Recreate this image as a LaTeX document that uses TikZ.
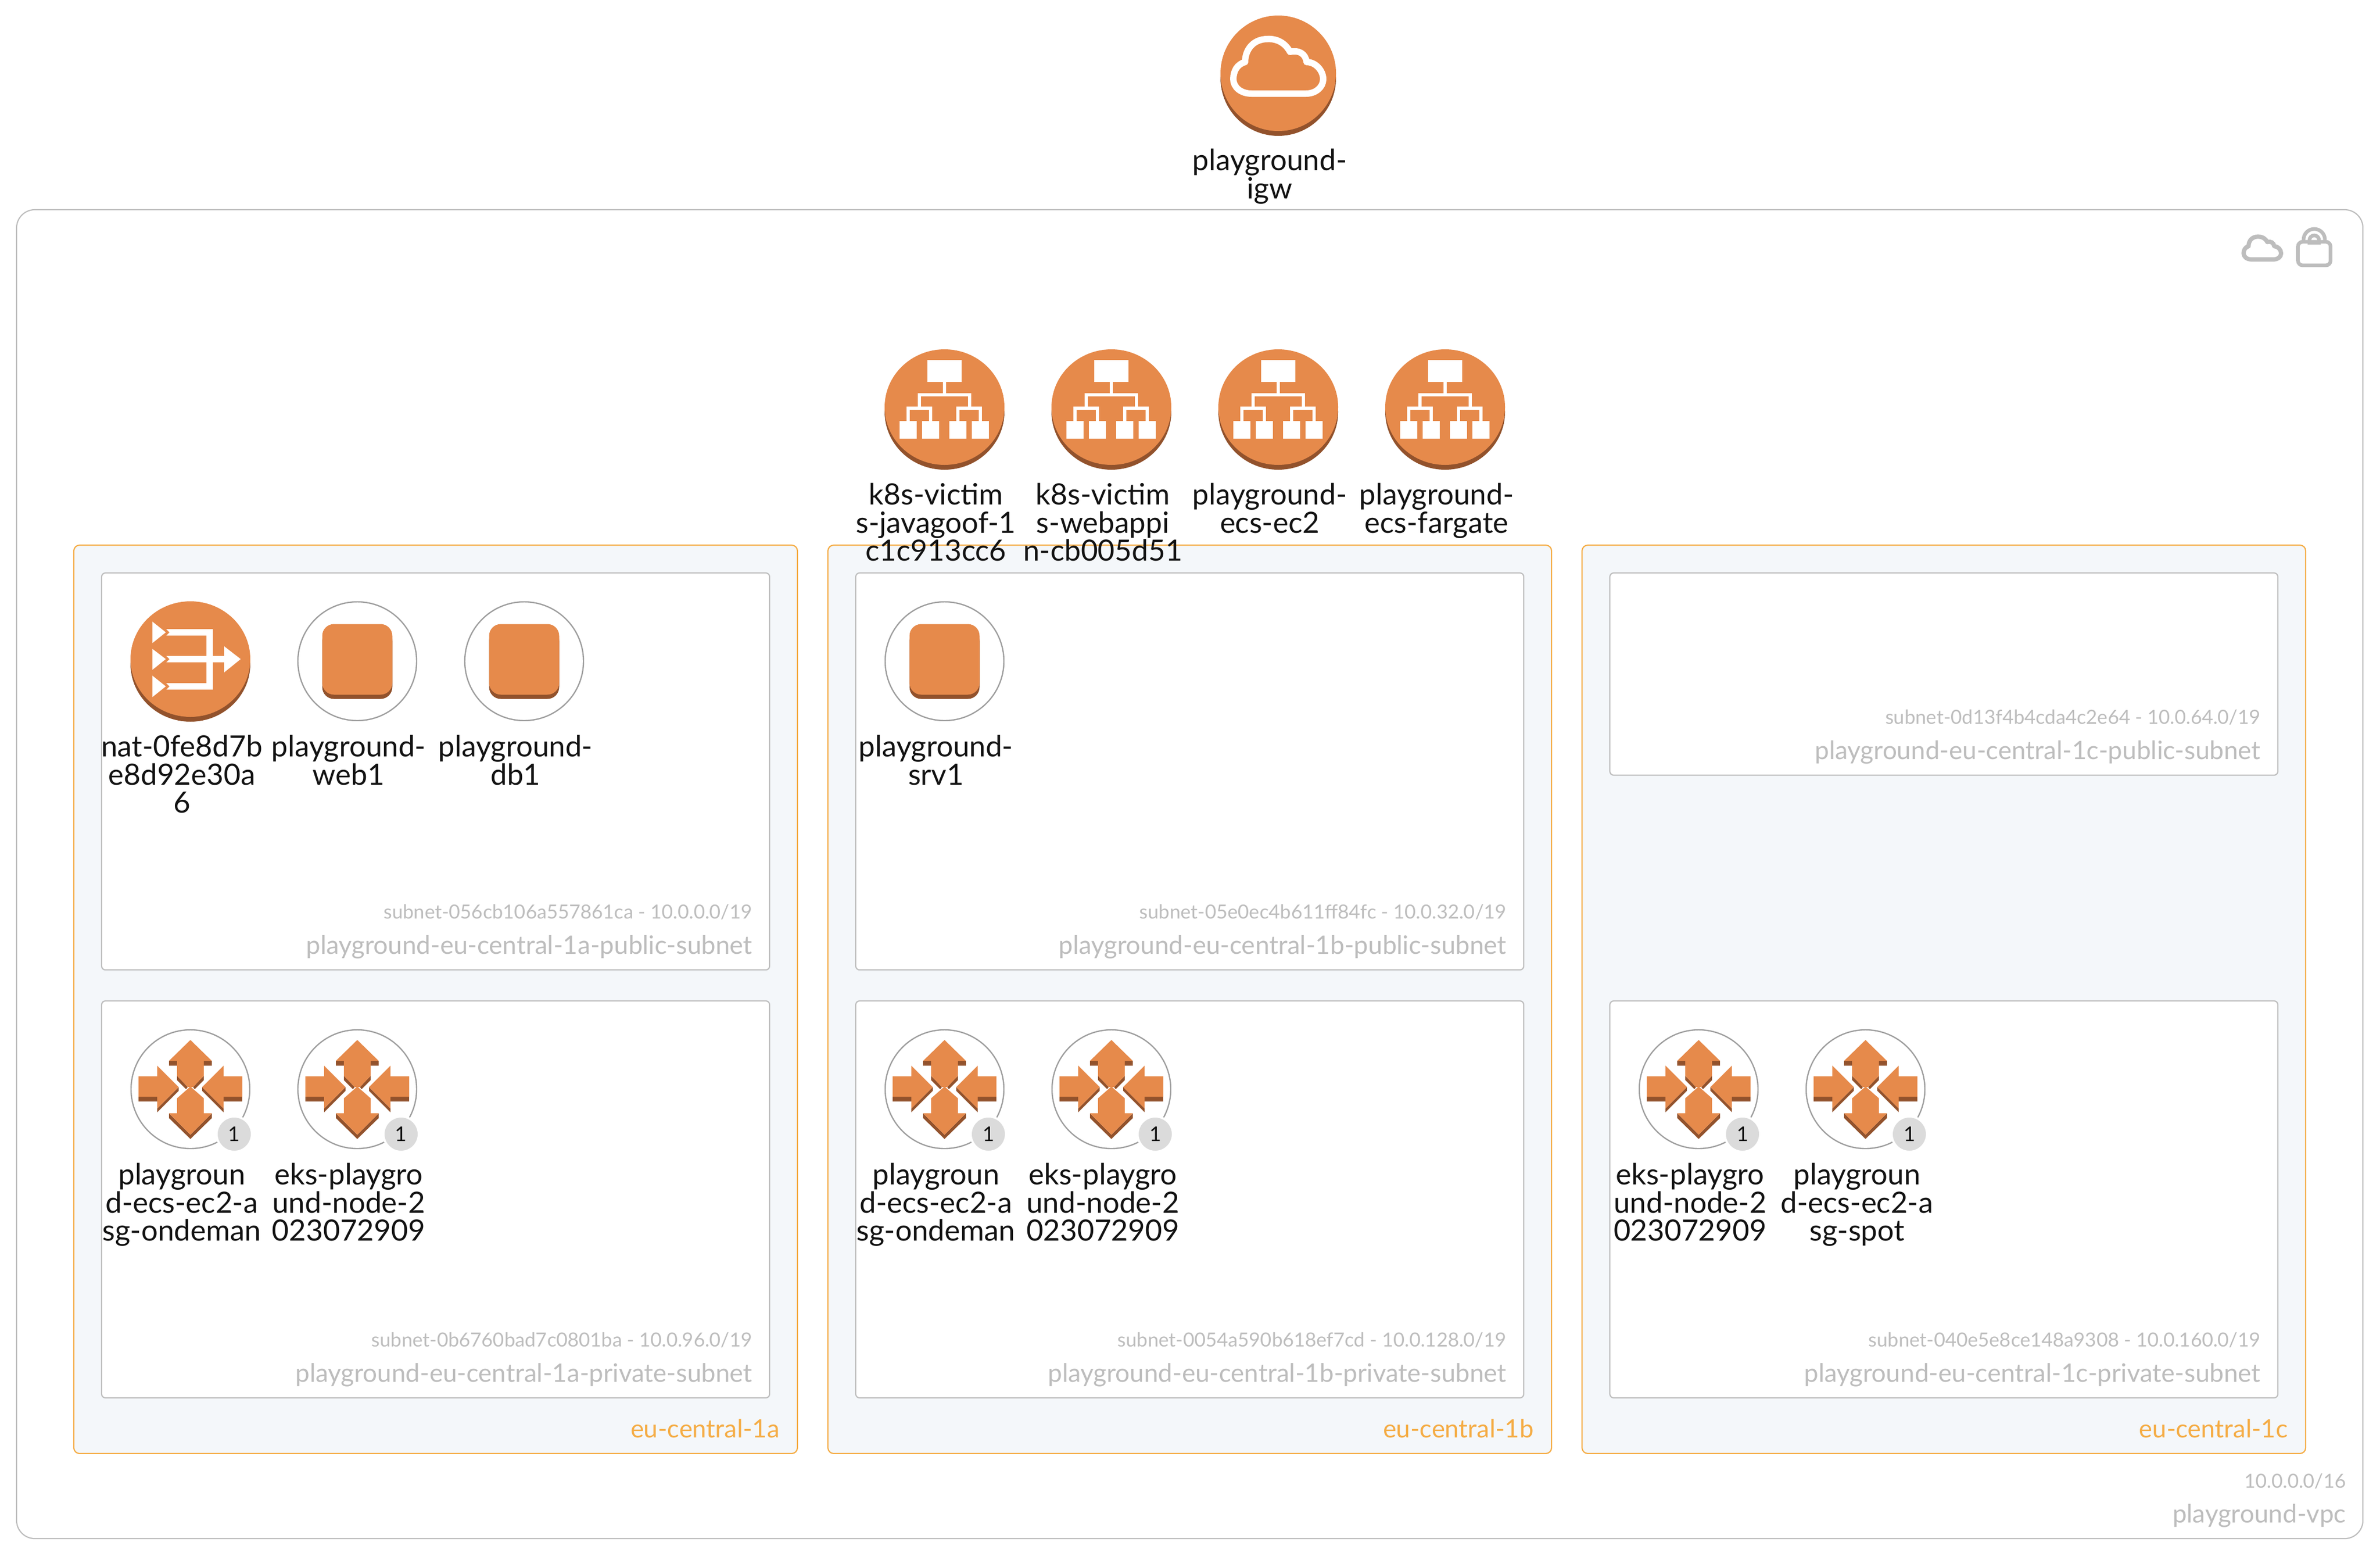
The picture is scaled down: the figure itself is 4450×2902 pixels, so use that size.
\documentclass[tikz,border=0pt]{standalone}
\usepackage{fontspec}
\setmainfont{Lato}
\normallineskiplimit=-5pt
\lineskiplimit=-5pt
\definecolor{awsorange}{HTML}{E68A4B}
\definecolor{awsdark}{HTML}{92522C}
\definecolor{boxgray}{HTML}{BDBDBD}
\definecolor{ringgray}{HTML}{9E9E9E}
\definecolor{azorange}{HTML}{F5AC44}
\definecolor{azfill}{HTML}{F4F7FA}
\tikzset{
    every picture/.style={line width=0.75pt},
    vpcbox/.style={draw=boxgray,fill=white,line width=0.55pt,rounded corners=8.5pt},
    azbox/.style={draw=azorange,fill=azfill,line width=0.55pt,rounded corners=2.7pt},
    subnetbox/.style={draw=boxgray,fill=white,line width=0.55pt,rounded corners=1.8pt},
    iconlabel/.style={anchor=north,align=center,inner sep=0pt,text=black!93,font=\fontsize{13.7}{13.1}\selectfont},
    subnetid/.style={anchor=base east,inner sep=0pt,text=boxgray,font=\fontsize{9.1}{11}\selectfont},
    subnetname/.style={anchor=base east,inner sep=0pt,text=boxgray,font=\fontsize{11.9}{13}\selectfont},
    azname/.style={anchor=base east,inner sep=0pt,text=azorange,font=\fontsize{11.8}{13}\selectfont},
    countbadge/.style={circle,fill=black!14,draw=white,line width=1pt,minimum size=16.5pt,inner sep=0pt,text=black!93,font=\fontsize{9.5}{11}\selectfont},
    % flat disc with the darker rim below it
    pics/disc/.style={code={
        \fill[awsdark] (0,9) circle (108);
        \fill[awsorange] (0,0) circle (108);
    }},
    pics/widedisc/.style={code={
        \fill[awsdark] (0,9) ellipse (112 and 108);
        \fill[awsorange] (0,0) ellipse (112 and 108);
    }},
    pics/ring/.style={code={
        \draw[ringgray,fill=white,line width=0.6pt] (0,0) circle (111);
    }},
    pics/cloudline/.style={code={
        \draw[line join=round] (-50,38) -- (52,38) .. controls (70,38) and (84,26) .. (84,11)
            .. controls (84,-5) and (70,-21) .. (53,-21) .. controls (51,-37) and (38,-44) .. (22,-40)
            .. controls (13,-57) and (-3,-65) .. (-20,-64) .. controls (-47,-64) and (-62,-44) .. (-62,-21)
            .. controls (-77,-17) and (-84,-4) .. (-84,11) .. controls (-84,26) and (-70,38) .. (-50,38) -- cycle;
    }},
    pics/igwicon/.style={code={
        \pic {disc};
        \pic[white,line width=3pt] {cloudline};
    }},
    pics/lockicon/.style={code={
        \draw[boxgray,line width=1.7pt,rounded corners=2.2pt] (-30.5,-22) rectangle (30.5,22);
        \draw[boxgray,line width=1.7pt] (-20,-22) -- (-20,-26) arc (180:360:20) -- (20,-22);
        \draw[boxgray,line width=1.7pt] (-9,-20) -- (-9,-25) arc (180:360:9) -- (9,-20) -- cycle;
    }},
    pics/albicon/.style={code={
        \pic {widedisc};
        \fill[white] (-32,-88) rectangle (32,-47);
        \fill[white] (-84,26) rectangle (-52,59);
        \fill[white] (-42,26) rectangle (-10,59);
        \fill[white] (9,26) rectangle (41,59);
        \fill[white] (51,26) rectangle (83,59);
        \draw[white,line width=1.5pt] (0,-47) -- (0,-23);
        \draw[white,line width=1.5pt] (-47,2) -- (-47,-23) -- (47,-23) -- (47,2);
        \draw[white,line width=1.5pt] (-68,26) -- (-68,2) -- (-26,2) -- (-26,26);
        \draw[white,line width=1.5pt] (25,26) -- (25,2) -- (67,2) -- (67,26);
    }},
    pics/naticon/.style={code={
        \pic {widedisc};
        \fill[white] (-71,-70) -- (-46,-50) -- (-71,-30) -- cycle;
        \fill[white] (-71,-19) -- (-46,0) -- (-71,20) -- cycle;
        \fill[white] (-71,31) -- (-46,51) -- (-71,71) -- cycle;
        \fill[white] (-45,-56) -- (42,-56) -- (42,57) -- (-45,57) -- (-39,51) -- (-45,45) -- (30,45)
            -- (30,6) -- (-45,6) -- (-39,0) -- (-45,-6) -- (30,-6) -- (30,-44) -- (-45,-44) -- (-39,-50) -- cycle;
        \fill[white] (42,-6) -- (63,-6) -- (63,-24) -- (94,0) -- (63,25) -- (63,6) -- (42,6) -- cycle;
    }},
    pics/instanceicon/.style={code={
        \pic {ring};
        \fill[awsdark,rounded corners=5.5pt] (-65.5,-60) rectangle (65.5,70.5);
        \fill[awsorange,rounded corners=5.5pt] (-65.5,-69.5) rectangle (65.5,62.5);
    }},
    pics/asgicon/.style={code={
        \pic {ring};
        % shadows
        \fill[awsdark] (-40,-53) -- (-40,-44) -- (-25,-44) -- (-25,-53) -- cycle;
        \fill[awsdark] (40,-53) -- (40,-44) -- (25,-44) -- (25,-53) -- cycle;
        \fill[awsdark] (-25,-25) -- (-25,-17) -- (-8,0) -- (-5,-4) -- cycle;
        \fill[awsdark] (25,-25) -- (25,-17) -- (8,0) -- (5,-4) -- cycle;
        \fill[awsdark] (-40,45) -- (-40,54) -- (0,93) -- (40,54) -- (40,45) -- (0,85) -- cycle;
        \fill[awsdark] (-97,14) -- (-62,14) -- (-62,23) -- (-97,23) -- cycle;
        \fill[awsdark] (-22,-4) -- (-62,36) -- (-62,43) -- (-22,3) -- cycle;
        \fill[awsdark] (97,14) -- (62,14) -- (62,23) -- (97,23) -- cycle;
        \fill[awsdark] (22,-4) -- (62,36) -- (62,43) -- (22,3) -- cycle;
        % arrows
        \fill[awsorange] (0,-92) -- (40,-53) -- (25,-53) -- (25,-25) -- (5,-4) -- (-5,-4) -- (-25,-25) -- (-25,-53) -- (-40,-53) -- cycle;
        \fill[awsorange] (0,-5) -- (25,17) -- (25,45) -- (40,45) -- (0,85) -- (-40,45) -- (-25,45) -- (-25,17) -- cycle;
        \fill[awsorange] (-97,-24) -- (-62,-24) -- (-62,-44) -- (-22,-4) -- (-62,36) -- (-62,14) -- (-97,14) -- cycle;
        \fill[awsorange] (97,-24) -- (62,-24) -- (62,-44) -- (22,-4) -- (62,36) -- (62,14) -- (97,14) -- cycle;
    }},
}

\begin{document}
\begin{tikzpicture}[x=0.25pt,y=-0.25pt]
    \useasboundingbox (0,0) rectangle (4450,2902);
    % Internet gateway
    \pic (igw) at (2390,137) {igwicon};
    \node[iconlabel] (igwlabel) at (2374,277) {playground-\\igw};
    % VPC
    \draw[vpcbox] (31,392) rectangle (4418,2876);
    \pic[boxgray,line width=2pt,scale=0.417] (vpccloud) at (4230,469) {cloudline};
    \pic (vpclock) at (4327,474) {lockicon};
    % Zones
    \draw[azbox] (138,1019) rectangle (1491,2717);
    \draw[azbox] (1548,1019) rectangle (2901,2717);
    \draw[azbox] (2958,1019) rectangle (4311,2717);
    % Subnets
    \draw[subnetbox] (190,1071) rectangle (1439,1813);
    \draw[subnetbox] (190,1871) rectangle (1439,2613);
    \draw[subnetbox] (1600,1071) rectangle (2849,1813);
    \draw[subnetbox] (1600,1871) rectangle (2849,2613);
    \draw[subnetbox] (3010,1071) rectangle (4259,1449);
    \draw[subnetbox] (3010,1871) rectangle (4259,2613);
    % Load balancers
    \pic (albjava) at (1766,761) {albicon};
    \pic (albweb) at (2078,761) {albicon};
    \pic (albec2) at (2390,761) {albicon};
    \pic (albfargate) at (2702,761) {albicon};
    \node[iconlabel] (albjavalabel) at (1750,902) {k8s-victim\\s-javagoof-1\\c1c913cc6};
    \node[iconlabel] (albweblabel) at (2062,902) {k8s-victim\\s-webappi\\n-cb005d51};
    \node[iconlabel] (albec2label) at (2374,902) {playground-\\ecs-ec2};
    \node[iconlabel] (albfargatelabel) at (2686,902) {playground-\\ecs-fargate};
    % Public subnet icons
    \pic (natgw) at (356,1232) {naticon};
    \pic (web1) at (668,1236) {instanceicon};
    \pic (db1) at (980,1236) {instanceicon};
    \pic (srv1) at (1766,1236) {instanceicon};
    \node[iconlabel] (natlabel) at (340,1373) {nat-0fe8d7b\\e8d92e30a\\6};
    \node[iconlabel] (web1label) at (652,1373) {playground-\\web1};
    \node[iconlabel] (db1label) at (964,1373) {playground-\\db1};
    \node[iconlabel] (srv1label) at (1750,1373) {playground-\\srv1};
    % Private subnet icons
    \pic (asgaecs) at (356,2036) {asgicon};
    \pic (asgaeks) at (668,2036) {asgicon};
    \pic (asgbecs) at (1766,2036) {asgicon};
    \pic (asgbeks) at (2078,2036) {asgicon};
    \pic (asgceks) at (3176,2036) {asgicon};
    \pic (asgcspot) at (3488,2036) {asgicon};
    \node[countbadge] (asgaecsbadge) at (438,2120) {1};
    \node[countbadge] (asgaeksbadge) at (750,2120) {1};
    \node[countbadge] (asgbecsbadge) at (1848,2120) {1};
    \node[countbadge] (asgbeksbadge) at (2160,2120) {1};
    \node[countbadge] (asgceksbadge) at (3258,2120) {1};
    \node[countbadge] (asgcspotbadge) at (3570,2120) {1};
    \node[iconlabel] (asgaecslabel) at (340,2173) {playgroun\\d-ecs-ec2-a\\sg-ondeman};
    \node[iconlabel] (asgaekslabel) at (652,2173) {eks-playgro\\und-node-2\\023072909};
    \node[iconlabel] (asgbecslabel) at (1750,2173) {playgroun\\d-ecs-ec2-a\\sg-ondeman};
    \node[iconlabel] (asgbekslabel) at (2062,2173) {eks-playgro\\und-node-2\\023072909};
    \node[iconlabel] (asgcekslabel) at (3160,2173) {eks-playgro\\und-node-2\\023072909};
    \node[iconlabel] (asgcspotlabel) at (3472,2173) {playgroun\\d-ecs-ec2-a\\sg-spot};
    % Subnet captions
    \node[subnetid] (idapub) at (1408,1717) {subnet-056cb106a557861ca - 10.0.0.0/19};
    \node[subnetname] (nameapub) at (1408,1783) {playground-eu-central-1a-public-subnet};
    \node[subnetid] (idapriv) at (1408,2517) {subnet-0b6760bad7c0801ba - 10.0.96.0/19};
    \node[subnetname] (nameapriv) at (1408,2583) {playground-eu-central-1a-private-subnet};
    \node[subnetid] (idbpub) at (2818,1717) {subnet-05e0ec4b611ff84fc - 10.0.32.0/19};
    \node[subnetname] (namebpub) at (2818,1783) {playground-eu-central-1b-public-subnet};
    \node[subnetid] (idbpriv) at (2818,2517) {subnet-0054a590b618ef7cd - 10.0.128.0/19};
    \node[subnetname] (namebpriv) at (2818,2583) {playground-eu-central-1b-private-subnet};
    \node[subnetid] (idcpub) at (4228,1353) {subnet-0d13f4b4cda4c2e64 - 10.0.64.0/19};
    \node[subnetname] (namecpub) at (4228,1419) {playground-eu-central-1c-public-subnet};
    \node[subnetid] (idcpriv) at (4228,2517) {subnet-040e5e8ce148a9308 - 10.0.160.0/19};
    \node[subnetname] (namecpriv) at (4228,2583) {playground-eu-central-1c-private-subnet};
    % Zone and VPC captions
    \node[azname] (aznamea) at (1459,2687) {eu-central-1a};
    \node[azname] (aznameb) at (2869,2687) {eu-central-1b};
    \node[azname] (aznamec) at (4279,2687) {eu-central-1c};
    \node[subnetid] (vpccidr) at (4388,2781) {10.0.0.0/16};
    \node[subnetname] (vpcname) at (4388,2846) {playground-vpc};
\end{tikzpicture}
\end{document}
